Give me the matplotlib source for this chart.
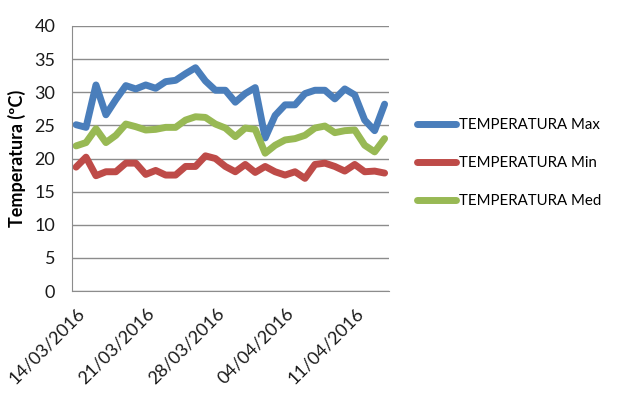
import matplotlib

matplotlib.use("Agg")
import matplotlib.dates as mdates
import matplotlib.pyplot as plt
import matplotlib.transforms as mtransforms
import pandas as pd

# daily readings, 14/03/2016 .. 14/04/2016
dates = pd.date_range("2016-03-14", "2016-04-14", freq="D")
t_max = [25.1, 24.7, 31.1, 26.6, 28.9, 31.0, 30.5, 31.1, 30.6, 31.6, 31.8, 32.8,
         33.7, 31.7, 30.3, 30.3, 28.5, 29.8, 30.7, 23.1, 26.5, 28.1, 28.1, 29.8,
         30.3, 30.3, 29.0, 30.5, 29.6, 25.8, 24.2, 28.2]
t_min = [18.7, 20.2, 17.4, 18.0, 18.0, 19.3, 19.3, 17.6, 18.2, 17.5, 17.5, 18.8,
         18.8, 20.4, 20.0, 18.8, 18.0, 19.1, 17.9, 18.8, 18.0, 17.5, 18.0, 17.0,
         19.1, 19.3, 18.8, 18.1, 19.1, 18.0, 18.1, 17.8]
t_med = [21.9, 22.4, 24.5, 22.4, 23.5, 25.2, 24.8, 24.3, 24.4, 24.7, 24.7, 25.8,
         26.3, 26.2, 25.2, 24.6, 23.3, 24.6, 24.4, 20.8, 22.0, 22.8, 23.0, 23.5,
         24.6, 24.9, 23.9, 24.2, 24.3, 22.0, 21.0, 23.0]
labels = ["TEMPERATURA Max", "TEMPERATURA Min", "TEMPERATURA Med"]
colors = ["#4A7EBB", "#BE4B48", "#98B954"]

plt.rcParams["font.family"] = ["Lato", "DejaVu Sans"]

fig = plt.figure(figsize=(6.2, 4.0), dpi=100)
ax = fig.add_axes([0.116, 0.2725, 0.511, 0.6625])

for series, label, color in zip((t_max, t_min, t_med), labels, colors):
    ax.plot(dates, series, color=color, lw=5, label=label,
            solid_joinstyle="round", solid_capstyle="round")

pad = pd.Timedelta(hours=10)
ax.set_xlim(dates[0] - pad, dates[-1] + pad)
ax.set_ylim(0, 40)
ax.set_yticks(range(0, 41, 5))
ax.xaxis.set_major_locator(mdates.WeekdayLocator(byweekday=mdates.MO))
ax.xaxis.set_major_formatter(mdates.DateFormatter("%d/%m/%Y"))

ax.grid(axis="y", color="#8c8c8c", lw=1)
ax.set_axisbelow(True)
for side in ("top", "right"):
    ax.spines[side].set_visible(False)
for side in ("left", "bottom"):
    ax.spines[side].set_color("#8c8c8c")
ax.tick_params(axis="both", length=0, labelsize=13, colors="#1a1a1a")
ax.tick_params(axis="y", pad=12)
ax.tick_params(axis="x", pad=14)
# nudge the rotated date labels right, like Excel does
shift = mtransforms.ScaledTranslation(6 / 100, 0, fig.dpi_scale_trans)
for lbl in ax.get_xticklabels():
    lbl.set_rotation(45)
    lbl.set_rotation_mode("anchor")
    lbl.set_ha("right")
    lbl.set_va("center")
    lbl.set_transform(lbl.get_transform() + shift)

ax.set_ylabel("Temperatura (ºC)", fontsize=13, fontweight="bold", labelpad=6)

fig.legend(loc="center left", bbox_to_anchor=(0.672, 0.5925), frameon=False,
           fontsize=10.8, handlelength=2.6, handletextpad=0.2, labelspacing=1.6,
           borderpad=0, borderaxespad=0)

fig.savefig("out.png", dpi=100)
plt.close(fig)
